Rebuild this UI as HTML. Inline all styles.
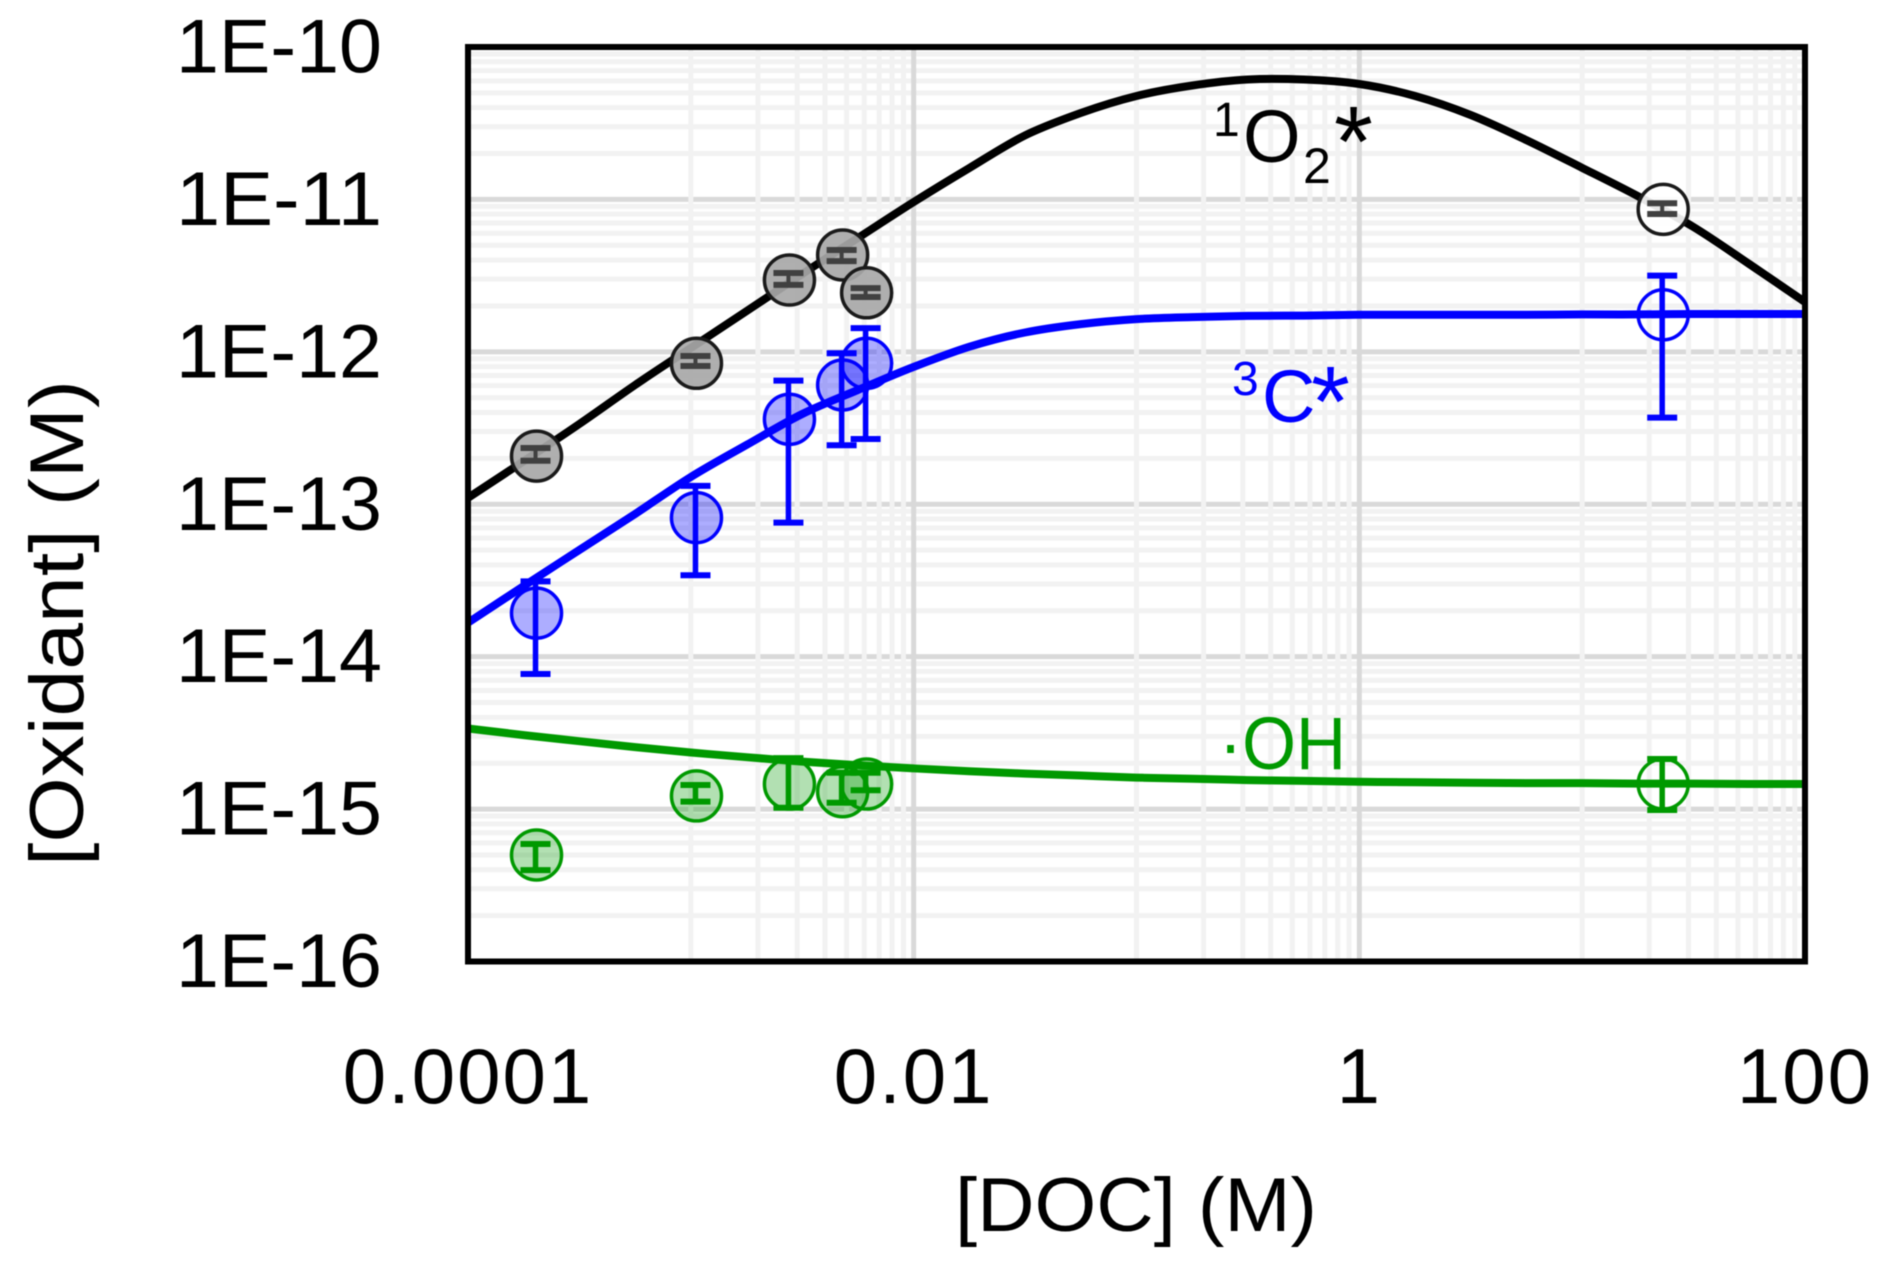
<!DOCTYPE html>
<html lang="en">
<head>
<meta charset="utf-8">
<title>Oxidant concentration versus DOC</title>
<style>
html,body{margin:0;padding:0;background:#fff;}
svg{display:block;filter:blur(0.6px);}
text{font-family:"Liberation Sans",sans-serif;}
</style>
</head>
<body>
<svg id="chart" xmlns="http://www.w3.org/2000/svg" width="1892" height="1268" viewBox="0 0 1892 1268">
  <rect x="0" y="0" width="1892" height="1268" fill="#ffffff"/>
  <g id="grid"></g>
  <g id="series"></g>
  <rect x="468" y="47" width="1337" height="914.5" fill="none" stroke="#000" stroke-width="6"/>
  <g id="ticks"></g>
  <text x="955" y="1231" font-size="76" textLength="362" lengthAdjust="spacingAndGlyphs" fill="#000">[DOC] (M)</text>
  <text transform="translate(83,866) rotate(-90)" x="0" y="0" font-size="76" textLength="486" lengthAdjust="spacingAndGlyphs" fill="#000">[Oxidant] (M)</text>
  <g fill="#000">
    <text x="1213" y="136" font-size="48">1</text>
    <text x="1243" y="162" font-size="74">O</text>
    <text x="1303" y="183" font-size="50">2</text>
    <text x="1334" y="176" font-size="100">*</text>
  </g>
  <g fill="#0000ff">
    <text x="1232" y="395" font-size="48">3</text>
    <text x="1262" y="422" font-size="74">C</text>
    <text x="1311" y="436" font-size="100">*</text>
  </g>
  <text x="1219" y="769" font-size="74" textLength="127" lengthAdjust="spacingAndGlyphs" fill="#009900">·OH</text>
</svg>
<script>
// ---- Axis tick data ----
const xTickValues = [1e-4, 1e-2, 1, 100];
const xTickLabels = ["0.0001", "0.01", "1", "100"];
const yTickValues = [1e-10, 1e-11, 1e-12, 1e-13, 1e-14, 1e-15, 1e-16];
const yTickLabels = ["1E-10", "1E-11", "1E-12", "1E-13", "1E-14", "1E-15", "1E-16"];

// ---- Measured points ----
const docValues = [2.03e-4, 1.06e-3, 2.77e-3, 4.8e-3, 6.15e-3, 23.1];

const o2Values = [2.07e-13, 8.41e-13, 2.96e-12, 4.32e-12, 2.44e-12, 8.61e-12];
const o2Upper  = [2.34e-13, 9.39e-13, 3.29e-12, 4.66e-12, 2.62e-12, 9.44e-12];
const o2Lower  = [1.93e-13, 8.07e-13, 2.75e-12, 3.94e-12, 2.29e-12, 8.02e-12];

const c3Values = [1.93e-14, 8.17e-14, 3.61e-13, 6.06e-13, 8.41e-13, 1.75e-12];
const c3Upper  = [3.12e-14, 1.32e-13, 6.47e-13, 9.78e-13, 1.43e-12, 3.16e-12];
const c3Lower  = [7.69e-15, 3.42e-14, 7.57e-14, 2.44e-13, 2.68e-13, 3.70e-13];

const ohValues = [5.00e-16, 1.22e-15, 1.46e-15, 1.30e-15, 1.46e-15, 1.46e-15];
const ohUpper  = [5.90e-16, 1.44e-15, 2.16e-15, 1.73e-15, 1.73e-15, 2.13e-15];
const ohLower  = [3.98e-16, 1.12e-15, 1.02e-15, 1.10e-15, 1.33e-15, 9.87e-16];

// ---- Modelled curves ----
const curveDoc = [1e-4, 1.78e-4, 3.16e-4, 5.62e-4, 1e-3, 1.78e-3, 3.16e-3, 5.62e-3, 1e-2, 1.78e-2, 3.16e-2, 5.62e-2, 0.1, 0.178, 0.316, 0.562, 1, 1.78, 3.16, 5.62, 10, 17.8, 31.6, 56.2, 100];
const o2Curve = [1.10e-13, 1.92e-13, 3.36e-13, 6.06e-13, 1.06e-12, 1.85e-12, 3.24e-12, 5.58e-12, 9.62e-12, 1.61e-11, 2.63e-11, 3.69e-11, 4.77e-11, 5.59e-11, 6.12e-11, 6.12e-11, 5.72e-11, 4.77e-11, 3.58e-11, 2.45e-11, 1.61e-11, 1.05e-11, 6.59e-12, 3.77e-12, 2.12e-12];
const c3Curve = [1.67e-14, 2.91e-14, 5.01e-14, 8.63e-14, 1.51e-13, 2.45e-13, 3.91e-13, 5.62e-13, 7.96e-13, 1.08e-12, 1.34e-12, 1.52e-12, 1.64e-12, 1.69e-12, 1.72e-12, 1.73e-12, 1.75e-12, 1.75e-12, 1.75e-12, 1.75e-12, 1.76e-12, 1.76e-12, 1.77e-12, 1.77e-12, 1.77e-12];
const ohCurve = [3.38e-15, 3.06e-15, 2.79e-15, 2.55e-15, 2.35e-15, 2.19e-15, 2.05e-15, 1.94e-15, 1.85e-15, 1.77e-15, 1.71e-15, 1.66e-15, 1.61e-15, 1.58e-15, 1.55e-15, 1.53e-15, 1.51e-15, 1.50e-15, 1.49e-15, 1.48e-15, 1.48e-15, 1.47e-15, 1.47e-15, 1.46e-15, 1.46e-15];

// ---- Scales ----
const SVG_NS = "http://www.w3.org/2000/svg";
const plotLeft = 468, plotRight = 1805, plotTop = 47, plotBottom = 961.5;
function xScale(v) { return plotLeft + (Math.log10(v) + 4) / 6 * (plotRight - plotLeft); }
function yScale(v) { return plotTop + (-10 - Math.log10(v)) / 6 * (plotBottom - plotTop); }
function make(tag, parent, props) {
  const el = document.createElementNS(SVG_NS, tag);
  for (const k in props) { el.setAttribute(k, props[k]); }
  parent.appendChild(el);
  return el;
}

// ---- Gridlines ----
const gridGroup = document.getElementById("grid");
const MINOR = "#f2f2f2", MAJOR = "#d9d9d9";

for (let e = -16; e < -10; e++) {
  for (let m = 2; m <= 9; m++) {
    const y = yScale(m * Math.pow(10, e));
    const line = make("line", gridGroup, {x1: plotLeft, x2: plotRight, y1: y, y2: y, stroke: MINOR, "stroke-width": 5});
    
    
  }
}
for (let e = -15; e < -10; e++) {
  const y = yScale(Math.pow(10, e));
  const line = make("line", gridGroup, {x1: plotLeft, x2: plotRight, y1: y, y2: y, stroke: MAJOR, "stroke-width": 5});
  
  
}
[-4, -2, 0].forEach(function (e) {
  for (let m = 1; m <= 9; m++) {
    const x = xScale(10 * m * Math.pow(10, e));
    const line = make("line", gridGroup, {x1: x, x2: x, y1: plotTop, y2: plotBottom, stroke: MINOR, "stroke-width": 5});
    
    
  }
});
xTickValues.slice(1, 3).forEach(function (v) {
  const x = xScale(v);
  const line = make("line", gridGroup, {x1: x, x2: x, y1: plotTop, y2: plotBottom, stroke: MAJOR, "stroke-width": 5});
  
  
});

// ---- Series ----
const seriesGroup = document.getElementById("series");

function drawCurve(values, color, nameText) {
  const px = values.map(function (v, i) { return [xScale(curveDoc[i]), yScale(v)]; });
  let d = "M" + px[0][0].toFixed(1) + " " + px[0][1].toFixed(1);
  for (let i = 0; i < px.length - 1; i++) {
    const p0 = px[Math.max(i - 1, 0)], p1 = px[i], p2 = px[i + 1], p3 = px[Math.min(i + 2, px.length - 1)];
    const c1x = p1[0] + (p2[0] - p0[0]) / 6, c1y = p1[1] + (p2[1] - p0[1]) / 6;
    const c2x = p2[0] - (p3[0] - p1[0]) / 6, c2y = p2[1] - (p3[1] - p1[1]) / 6;
    d += "C" + c1x.toFixed(1) + " " + c1y.toFixed(1) + " " + c2x.toFixed(1) + " " + c2y.toFixed(1) + " " + p2[0].toFixed(1) + " " + p2[1].toFixed(1);
  }
  const line = make("path", seriesGroup, {d: d, fill: "none", stroke: color, "stroke-width": 8, "stroke-linejoin": "round"});
  
  
}
function drawMarkers(values, fills, stroke, nameText) {
  values.forEach(function (v, i) {
    const c = make("circle", seriesGroup, {cx: xScale(docValues[i]), cy: yScale(v), r: 25, fill: fills[i], stroke: stroke, "stroke-width": 3.5});
    
    
  });
}
function drawErrors(upper, lower, color, stemWidth, nameText) {
  upper.forEach(function (u, i) {
    const x = xScale(docValues[i]) - 1;
    const yu = yScale(u), yl = yScale(lower[i]);
    const stem = make("line", seriesGroup, {x1: x, x2: x, y1: yu, y2: yl, stroke: color, "stroke-width": stemWidth});
    
    
    const capTop = make("line", seriesGroup, {x1: x - 15, x2: x + 15, y1: yu, y2: yu, stroke: color, "stroke-width": 6});
    
    
    const capBottom = make("line", seriesGroup, {x1: x - 15, x2: x + 15, y1: yl, y2: yl, stroke: color, "stroke-width": 6});
    
    
  });
}

const grayFill = "rgba(168,168,168,0.92)", blueFill = "rgba(0,0,255,0.32)", greenFill = "rgba(0,153,0,0.3)";

drawCurve(o2Curve, "#000000", "singlet-oxygen-curve");
drawMarkers(o2Values, [grayFill, grayFill, grayFill, grayFill, grayFill, "rgba(255,255,255,0.9)"], "#1a1a1a", "singlet-oxygen-point");
drawErrors(o2Upper, o2Lower, "#404040", 4, "singlet-oxygen-error-bar");

drawMarkers(c3Values, [blueFill, blueFill, blueFill, blueFill, blueFill, "none"], "#0000ff", "triplet-carbon-point");
drawErrors(c3Upper, c3Lower, "#0000ff", 5.5, "triplet-carbon-error-bar");
drawCurve(c3Curve, "#0000ff", "triplet-carbon-curve");

drawMarkers(ohValues, [greenFill, greenFill, greenFill, greenFill, greenFill, "none"], "#009900", "hydroxyl-point");
drawErrors(ohUpper, ohLower, "#009900", 5.5, "hydroxyl-error-bar");
drawCurve(ohCurve, "#009900", "hydroxyl-curve");

// ---- Tick labels ----
const tickGroup = document.getElementById("ticks");
xTickLabels.forEach(function (label, i) {
  const t = make("text", tickGroup, {x: xScale(xTickValues[i]), y: 1103, "font-size": 78, "text-anchor": "middle", "letter-spacing": 2, fill: "#000"});
  t.textContent = label;
  
  
});
yTickLabels.forEach(function (label, i) {
  const t = make("text", tickGroup, {x: 176, y: yScale(yTickValues[i]) + 25.5, "font-size": 76, textLength: 206, lengthAdjust: "spacingAndGlyphs", fill: "#000"});
  t.textContent = label;
  
  
});
</script>
</body>
</html>
